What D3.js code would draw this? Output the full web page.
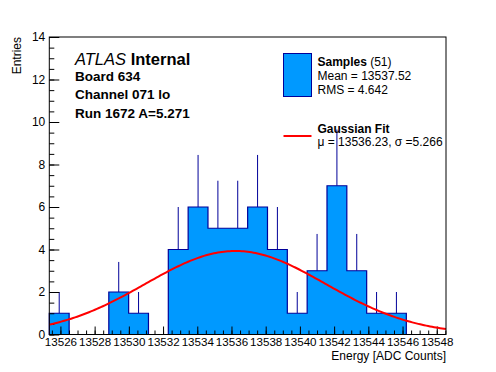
<!DOCTYPE html>
<html>
<head>
<meta charset="utf-8">
<script src="https://cdn.jsdelivr.net/npm/d3@7"></script>
<style>
  body { margin: 0; background: #fff; }
  svg text { font-family: "Liberation Sans", Arial, Helvetica, sans-serif; }
</style>
</head>
<body>
<div id="chart"></div>
<script>
// histogram contents, 20 bins
const binCounts = [1, 0, 0, 2, 1, 0, 4, 6, 5, 5, 6, 4, 1, 3, 7, 3, 1, 1, 0, 0];
const xMin = 13525.35,
  xMax = 13548.54;
const xMajorTicks = [13526, 13528, 13530, 13532, 13534, 13536, 13538, 13540, 13542, 13544, 13546, 13548];
const yMajorTicks = [0, 2, 4, 6, 8, 10, 12, 14];

// gaussian fit parameters
const fitConst = 3.93,
  fitMean = 13536.23,
  fitSigma = 5.266;

const infoLines = ["Board 634", "Channel 071 lo", "Run 1672 A=5.271"];

const margin = { top: 37, right: 50, bottom: 37.5, left: 49.3 },
  width = 496,
  height = 372,
  w = width - margin.left - margin.right,
  h = height - margin.top - margin.bottom;

const fillCol = "#0099ff",
  lineCol = "#000099";

const svg = d3
  .select("#chart")
  .append("svg")
  .attr("width", width)
  .attr("height", height);

const g = svg
  .append("g")
  .attr("transform", `translate(${margin.left}, ${margin.top})`);

const x = d3.scaleLinear().domain([xMin, xMax]).range([0, w]);
const y = d3.scaleLinear().domain([0, 14]).range([h, 0]);

const binW = (xMax - xMin) / binCounts.length;

// step outline of the histogram
const steps = [[x(xMin), y(0)]];
binCounts.forEach((c, i) => {
  steps.push([x(xMin + i * binW), y(c)]);
  steps.push([x(xMin + (i + 1) * binW), y(c)]);
});
steps.push([x(xMax), y(0)]);

// error bars (upper half only shows above the fill)
g.append("g")
  .selectAll("line")
  .data(binCounts.map((c, i) => ({ c, i })).filter((d) => d.c > 0))
  .join("line")
  .attr("x1", (d) => x(xMin + (d.i + 0.5) * binW))
  .attr("x2", (d) => x(xMin + (d.i + 0.5) * binW))
  .attr("y1", (d) => y(d.c))
  .attr("y2", (d) => y(d.c + Math.sqrt(d.c)))
  .attr("stroke", lineCol)
  .attr("stroke-width", 1);

g.append("path")
  .attr("d", d3.line()(steps) + "Z")
  .attr("fill", fillCol)
  .attr("stroke", lineCol)
  .attr("stroke-width", 1.2);

// axes (ticks point inward like ROOT)
const xMinor = d3.range(13525.5, xMax, 0.5);
const yMinor = d3.range(0, 14.01, 0.5);

g.append("g")
  .attr("transform", `translate(0, ${h})`)
  .call(d3.axisBottom(x).tickValues(xMinor).tickSize(-4).tickFormat(""))
  .call((a) => a.select(".domain").remove());

g.append("g")
  .attr("transform", `translate(0, ${h})`)
  .call(d3.axisBottom(x).tickValues(xMajorTicks).tickSize(-8).tickPadding(3).tickFormat(d3.format("d")))
  .call((a) => a.select(".domain").remove())
  .call((a) => a.selectAll("text").style("font-size", "11.6px").attr("fill", "#000"));

g.append("g")
  .call(d3.axisLeft(y).tickValues(yMinor).tickSize(-5).tickFormat(""))
  .call((a) => a.select(".domain").remove());

g.append("g")
  .call(d3.axisLeft(y).tickValues(yMajorTicks).tickSize(-10).tickPadding(4))
  .call((a) => a.select(".domain").remove())
  .call((a) => a.selectAll("text").style("font-size", "12px").attr("fill", "#000"));

// gaussian fit curve
const gaus = (v) => fitConst * Math.exp(-((v - fitMean) ** 2) / (2 * fitSigma ** 2));
const fitPts = d3.range(0, 201).map((k) => xMin + (k / 200) * (xMax - xMin));

g.append("path")
  .datum(fitPts)
  .attr("d", d3.line().x((v) => x(v)).y((v) => y(gaus(v))))
  .attr("fill", "none")
  .attr("stroke", "#ff0000")
  .attr("stroke-width", 2);

// frame
g.append("rect")
  .attr("width", w)
  .attr("height", h)
  .attr("fill", "none")
  .attr("stroke", "#000")
  .attr("stroke-width", 1);

// axis titles
svg
  .append("text")
  .attr("x", margin.left + w)
  .attr("y", 360)
  .attr("text-anchor", "end")
  .style("font-size", "12px")
  .text("Energy [ADC Counts]");

svg
  .append("text")
  .attr("transform", `translate(21, ${margin.top}) rotate(-90)`)
  .attr("text-anchor", "end")
  .style("font-size", "12px")
  .text("Entries");

// ATLAS label block
const atlas = svg
  .append("text")
  .attr("x", 75)
  .attr("y", 65)
  .style("font-size", "16.5px");
atlas.append("tspan").style("font-style", "italic").text("ATLAS");
atlas.append("tspan").style("font-weight", "bold").text(" Internal");

svg
  .append("g")
  .selectAll("text")
  .data(infoLines)
  .join("text")
  .attr("x", 75)
  .attr("y", (d, i) => 81 + i * 18.3)
  .style("font-size", "13.5px")
  .style("font-weight", "bold")
  .text((d) => d);

// legend
const leg = svg.append("g");
leg
  .append("rect")
  .attr("x", 283.5)
  .attr("y", 53.5)
  .attr("width", 28)
  .attr("height", 43)
  .attr("fill", fillCol)
  .attr("stroke", lineCol)
  .attr("stroke-width", 1);

const t1 = leg.append("text").attr("x", 317.5).attr("y", 66).style("font-size", "12px");
t1.append("tspan").style("font-weight", "bold").text("Samples");
t1.append("tspan").text(" (51)");
leg.append("text").attr("x", 317.5).attr("y", 80).style("font-size", "12px").text("Mean = 13537.52");
leg.append("text").attr("x", 317.5).attr("y", 93.5).style("font-size", "12px").text("RMS = 4.642");

leg
  .append("line")
  .attr("x1", 283.5)
  .attr("x2", 311.5)
  .attr("y1", 136)
  .attr("y2", 136)
  .attr("stroke", "#ff0000")
  .attr("stroke-width", 2);
leg
  .append("text")
  .attr("x", 317.5)
  .attr("y", 132.5)
  .style("font-size", "12px")
  .style("font-weight", "bold")
  .text("Gaussian Fit");
leg
  .append("text")
  .attr("x", 317.5)
  .attr("y", 145.5)
  .style("font-size", "12px")
  .text("μ = 13536.23, σ =5.266");
</script>
</body>
</html>
